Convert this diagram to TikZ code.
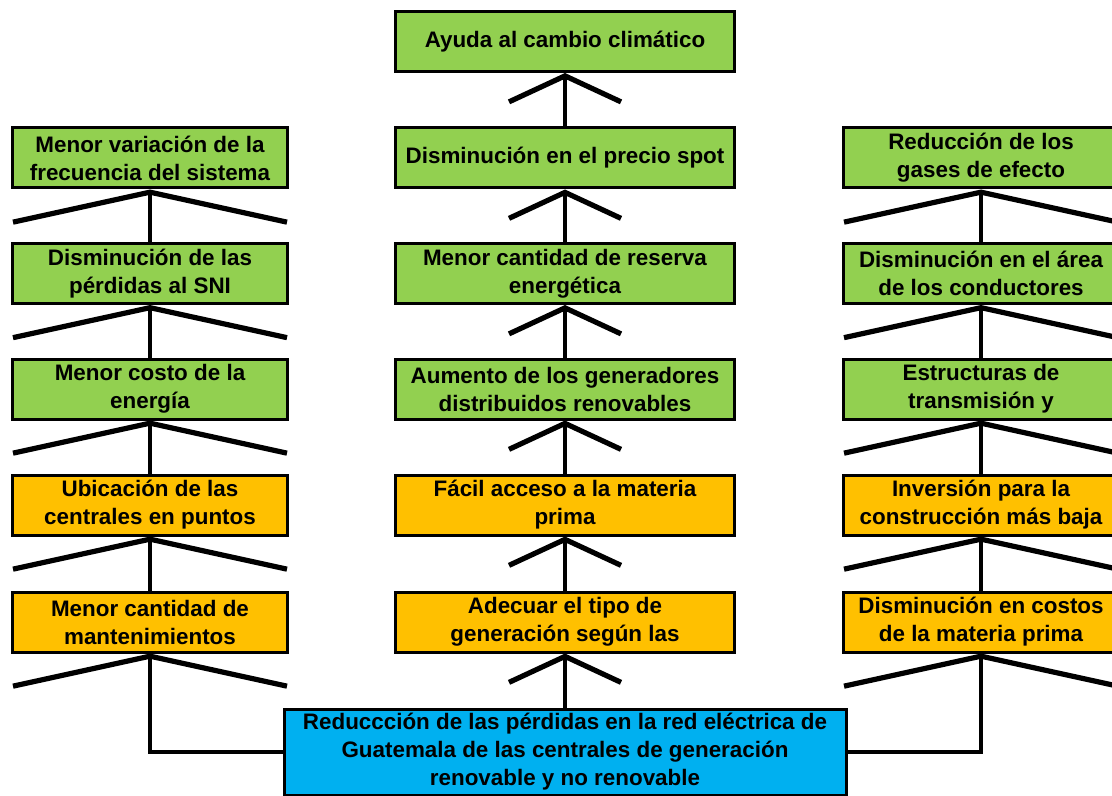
\documentclass[tikz,border=0pt]{standalone}
\usepackage{fontspec}
\setmainfont{Liberation Sans}
\usetikzlibrary{arrows.meta}
\definecolor{verde}{HTML}{92D050}
\definecolor{naranja}{HTML}{FFC000}
\definecolor{celeste}{HTML}{00B0F0}
\tikzset{% 
	caja/.style = {draw, line width = 1.5pt, align = center, inner sep = 0pt, minimum height = 30pt, font = \bfseries\fontsize{11.2}{14}\selectfont},
	lado/.style = {caja, minimum width = 137.5pt},
	medio/.style = {caja, minimum width = 169.5pt},
	punta/.style = {-{Straight Barb[length = 15pt, width = 137pt, line width = 2.6pt]}},
	puntam/.style = {-{Straight Barb[length = 13pt, width = 56pt, line width = 2.6pt]}},
	every edge/.append style = {line width = 1.6pt}
}

\begin{document}
\begin{tikzpicture}[x = 0.5pt, y = -0.5pt]
			\path [use as bounding box, clip] (0,0) rectangle (1112,796);
			\node [medio, fill = verde] (m0) at (565,41.5) {Ayuda al cambio climático};
			\node [lado, fill = verde] (l1) at (150,158) {Menor variación de la\\frecuencia del sistema};
			\node [medio, fill = verde] (m1) at (565,158) {Disminución en el precio spot};
			\node [lado, fill = verde] (r1) at (981,158) {Reducción de los\\gases de efecto};
			\node [lado, fill = verde] (l2) at (150,273.5) {Disminución de las\\pérdidas al SNI};
			\node [medio, fill = verde] (m2) at (565,273.5) {Menor cantidad de reserva\\energética};
			\node [lado, fill = verde] (r2) at (981,273.5) {Disminución en el área\\de los conductores};
			\node [lado, fill = verde] (l3) at (150,389) {Menor costo de la\\energía};
			\node [medio, fill = verde] (m3) at (565,389) {Aumento de los generadores\\distribuidos renovables};
			\node [lado, fill = verde] (r3) at (981,389) {Estructuras de\\transmisión y};
			\node [lado, fill = naranja] (l4) at (150,505) {Ubicación de las\\centrales en puntos};
			\node [medio, fill = naranja] (m4) at (565,505) {Fácil acceso a la materia\\prima};
			\node [lado, fill = naranja] (r4) at (981,505) {Inversión para la\\construcción más baja};
			\node [lado, fill = naranja] (l5) at (150,622) {Menor cantidad de\\mantenimientos};
			\node [medio, fill = naranja] (m5) at (565,622) {Adecuar el tipo de\\generación según las};
			\node [lado, fill = naranja] (r5) at (981,622) {Disminución en costos\\de la materia prima};
			\node [caja, fill = celeste, minimum width = 281pt, minimum height = 43pt] (base) at (565,752) {Reduccción de las pérdidas en la red eléctrica de\\Guatemala de las centrales de generación\\renovable y no renovable};
			\path [puntam] (base) edge (m5);
			\path [puntam] (m5) edge (m4);
			\path [puntam] (m4) edge (m3);
			\path [puntam] (m3) edge (m2);
			\path [puntam] (m2) edge (m1);
			\path [puntam] (m1) edge (m0);
			\path [punta] (l5) edge (l4);
			\path [punta] (l4) edge (l3);
			\path [punta] (l3) edge (l2);
			\path [punta] (l2) edge (l1);
			\path [punta] (r5) edge (r4);
			\path [punta] (r4) edge (r3);
			\path [punta] (r3) edge (r2);
			\path [punta] (r2) edge (r1);
			\draw [punta, line width = 1.6pt] (base.west) -| (l5);
			\draw [punta, line width = 1.6pt] (base.east) -| (r5);
\end{tikzpicture}
\end{document}
